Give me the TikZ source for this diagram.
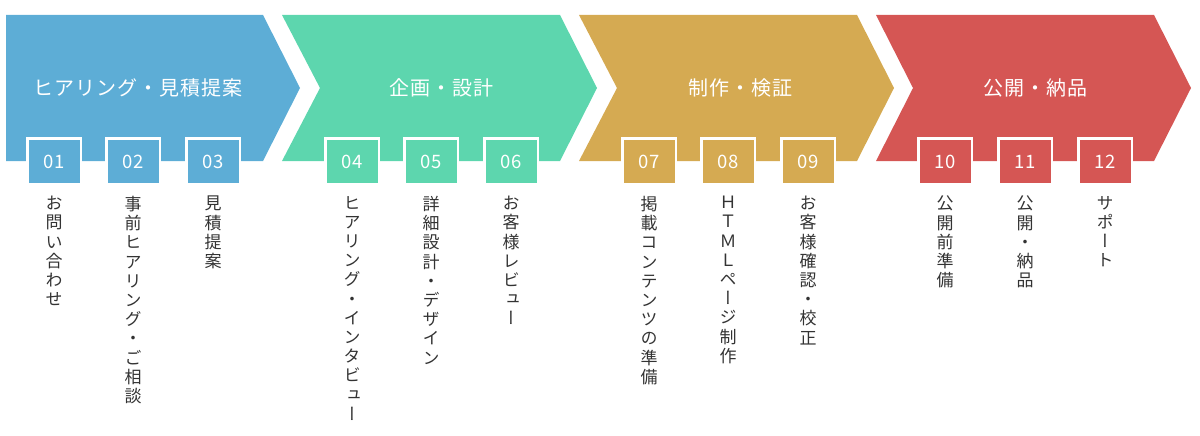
\documentclass[tikz,border=0pt]{standalone}
\usepackage{fontspec}
\setmainfont{Noto Sans CJK JP}
\newfontfamily\vjp[RawFeature=+vert]{Noto Sans CJK JP}
\definecolor{cblue}{HTML}{5DADD6}
\definecolor{cgreen}{HTML}{5DD6AE}
\definecolor{cgold}{HTML}{D5AA52}
\definecolor{cred}{HTML}{D55654}
\definecolor{textgray}{HTML}{333333}
\begin{document}
\begin{tikzpicture}[x=1pt,y=-1pt,
  head/.style={text=white,inner sep=0,font=\addfontfeature{LetterSpace=5}\fontsize{20}{20}\selectfont},
  numbox/.style={fill=#1,draw=white,line width=2.5pt,minimum width=53.5pt,minimum height=46pt,inner sep=0,text=white,font=\fontsize{18.5}{18.5}\selectfont},
  vtext/.style={anchor=north,align=center,inner sep=0,text=textgray,font=\vjp\fontsize{17}{19.2}\selectfont}]
\useasboundingbox (0,0) rectangle (1200,436);
% chevrons
\fill[cblue] (6,15) -- (263,15) -- (300,88) -- (263,161) -- (6,161) -- cycle;
\fill[cgreen] (282,15) -- (560,15) -- (597,88) -- (560,161) -- (282,161) -- (320,88) -- cycle;
\fill[cgold] (579,15) -- (857,15) -- (894,88) -- (857,161) -- (579,161) -- (617,88) -- cycle;
\fill[cred] (876,15) -- (1154,15) -- (1191,88) -- (1154,161) -- (876,161) -- (913,88) -- cycle;
% headings
\node[head] (h1) at (138,88) {ヒアリング・見積提案};
\node[head] (h2) at (441,88) {企画・設計};
\node[head] (h3) at (740,88) {制作・検証};
\node[head] (h4) at (1035,88) {公開・納品};
% number boxes
\node[numbox=cblue] (n01) at (54,161.5) {01};
\node[numbox=cblue] (n02) at (133,161.5) {02};
\node[numbox=cblue] (n03) at (213,161.5) {03};
\node[numbox=cgreen] (n04) at (352,161.5) {04};
\node[numbox=cgreen] (n05) at (431,161.5) {05};
\node[numbox=cgreen] (n06) at (511,161.5) {06};
\node[numbox=cgold] (n07) at (649,161.5) {07};
\node[numbox=cgold] (n08) at (728,161.5) {08};
\node[numbox=cgold] (n09) at (808,161.5) {09};
\node[numbox=cred] (n10) at (945,161.5) {10};
\node[numbox=cred] (n11) at (1025,161.5) {11};
\node[numbox=cred] (n12) at (1105,161.5) {12};
% vertical texts
\node[vtext] (t01) at (54,196) {お\\問\\い\\合\\わ\\せ};
\node[vtext] (t02) at (133,196) {事\\前\\ヒ\\ア\\リ\\ン\\グ\\・\\ご\\相\\談};
\node[vtext] (t03) at (213,196) {見\\積\\提\\案};
\node[vtext] (t04) at (352,196) {ヒ\\ア\\リ\\ン\\グ\\・\\イ\\ン\\タ\\ビ\\ュ\\ー};
\node[vtext] (t05) at (431,196) {詳\\細\\設\\計\\・\\デ\\ザ\\イ\\ン};
\node[vtext] (t06) at (511,196) {お\\客\\様\\レ\\ビ\\ュ\\ー};
\node[vtext] (t07) at (649,196) {掲\\載\\コ\\ン\\テ\\ン\\ツ\\の\\準\\備};
\node[vtext] (t08) at (728,196) {Ｈ\\Ｔ\\Ｍ\\Ｌ\\ペ\\ー\\ジ\\制\\作};
\node[vtext] (t09) at (808,196) {お\\客\\様\\確\\認\\・\\校\\正};
\node[vtext] (t10) at (945,196) {公\\開\\前\\準\\備};
\node[vtext] (t11) at (1025,196) {公\\開\\・\\納\\品};
\node[vtext] (t12) at (1105,196) {サ\\ポ\\ー\\ト};
\end{tikzpicture}
\end{document}
